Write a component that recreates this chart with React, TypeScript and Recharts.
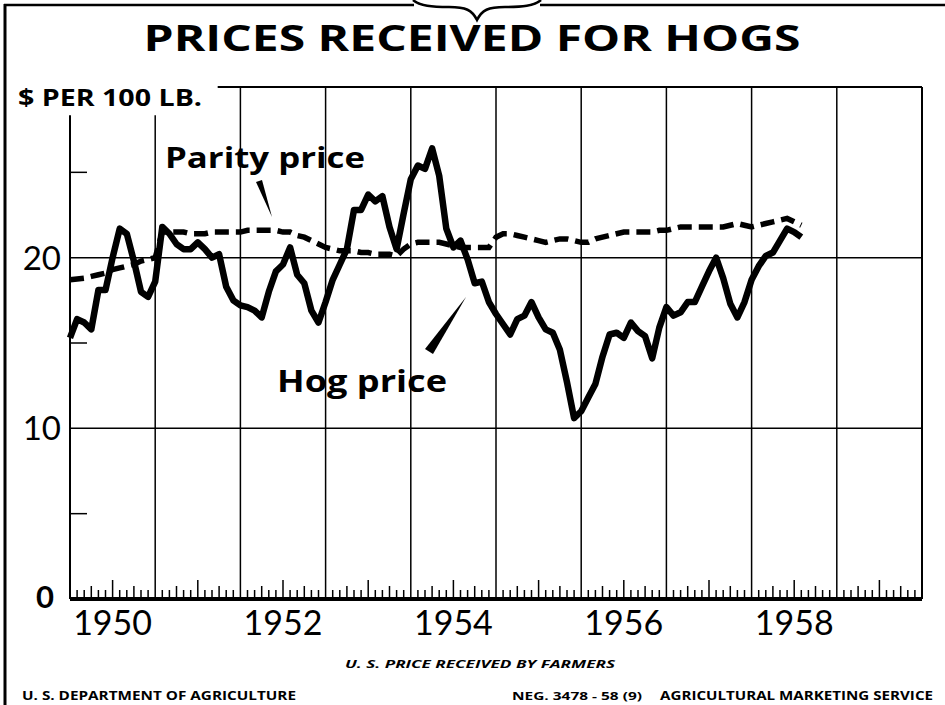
import React from 'react'
import { LineChart, Line, XAxis, YAxis, ReferenceLine, Customized } from 'recharts'

// monthly, Jan 1950 .. Aug 1958, dollars per 100 lb.
const hogPrice = [
  15.3, 16.4, 16.2, 15.8, 18.1, 18.1, 20.0, 21.7, 21.4, 19.8, 18.0, 17.7,
  18.6, 21.8, 21.4, 20.8, 20.5, 20.5, 20.9, 20.5, 20.0, 20.2, 18.3, 17.5,
  17.2, 17.1, 16.9, 16.5, 18.0, 19.2, 19.6, 20.6, 19.0, 18.5, 16.9, 16.2,
  17.4, 18.7, 19.6, 20.5, 22.8, 22.8, 23.7, 23.3, 23.6, 21.8, 20.5, 22.6,
  24.6, 25.4, 25.2, 26.4, 24.8, 21.7, 20.6, 21.0, 19.9, 18.5, 18.6, 17.4,
  16.7, 16.1, 15.5, 16.4, 16.6, 17.4, 16.5, 15.8, 15.6, 14.6, 12.7, 10.6,
  11.0, 11.8, 12.6, 14.2, 15.5, 15.6, 15.3, 16.2, 15.7, 15.4, 14.1, 15.9,
  17.1, 16.6, 16.8, 17.4, 17.4, 18.3, 19.2, 20.0, 18.8, 17.3, 16.5, 17.4,
  18.7, 19.5, 20.1, 20.3, 21.0, 21.7, 21.5, 21.2,
]

const parityPrice = [
  18.7, 18.75, 18.8, 18.9, 19.0, 19.1, 19.3, 19.4, 19.5, 19.6, 19.8, 19.9,
  20.0, 21.5, 21.5, 21.5, 21.5, 21.4, 21.4, 21.4, 21.5, 21.5, 21.5, 21.5,
  21.5, 21.6, 21.6, 21.6, 21.6, 21.6, 21.5, 21.5, 21.3, 21.2, 21.0, 20.8,
  20.6, 20.5, 20.4, 20.4, 20.4, 20.3, 20.3, 20.2, 20.2, 20.2, 20.1, 20.5,
  20.8, 20.9, 20.9, 20.9, 20.9, 20.8, 20.7, 20.6, 20.6, 20.6, 20.6, 20.6,
  21.2, 21.4, 21.4, 21.3, 21.2, 21.1, 21.0, 20.9, 21.0, 21.1, 21.1, 21.0,
  20.9, 20.9, 21.1, 21.2, 21.3, 21.4, 21.5, 21.5, 21.5, 21.5, 21.5, 21.6,
  21.6, 21.7, 21.8, 21.8, 21.8, 21.8, 21.8, 21.8, 21.8, 21.9, 22.0, 21.9,
  21.8, 21.9, 22.0, 22.1, 22.2, 22.3, 22.1, 21.9,
]

const firstYear = 1950
const labeledYears = [1950, 1952, 1954, 1956, 1958]
const valueLabels = [0, 10, 20]
const valueTicks = [0, 5, 10, 15, 20, 25, 30]
const monthTicks = Array.from({ length: 121 }, (_, i) => i)
const yearLines = Array.from({ length: 11 }, (_, i) => i * 12)

const chartData = hogPrice.map((hog, i) => ({ month: i, hog, parity: parityPrice[i] }))

const digitFont = 'Lato, "Open Sans", sans-serif'
const boldFont = '"Open Sans", "DejaVu Sans", sans-serif'

function MonthTick({ x, y, payload }: any) {
  const m = payload.value
  const mo = m % 12
  const year = firstYear + Math.floor(m / 12)
  const len = mo === 6 ? 17 : mo === 3 || mo === 9 ? 11 : 7
  return (
    <g>
      {mo !== 0 && (
        <line x1={x} x2={x} y1={y - 2} y2={y - 2 - len} stroke="#000" strokeWidth={1.5} />
      )}
      {mo === 6 && labeledYears.includes(year) && (
        <text x={x} y={y + 36} textAnchor="middle" fontSize={34} fontFamily={digitFont} fill="#000">
          {year}
        </text>
      )}
    </g>
  )
}

function ValueTick({ x, y, payload }: any) {
  const v = payload.value
  if (v % 10 === 5) {
    return <line x1={x} x2={x + 17} y1={y} y2={y} stroke="#000" strokeWidth={1.5} />
  }
  if (!valueLabels.includes(v)) return null
  return (
    <text
      x={v === 0 ? x - 16 : x - 9}
      y={v === 0 ? y + 9 : y + 12}
      textAnchor="end"
      fontSize={v === 0 ? 31 : 33}
      fontWeight={v === 0 ? 700 : 400}
      fontFamily={digitFont}
      fill="#000"
    >
      {v}
    </text>
  )
}

function Decorations() {
  return (
    <g>
      {/* frame and brace */}
      <line x1={5} x2={5} y1={4} y2={705} stroke="#000" strokeWidth={3} />
      <line x1={4} x2={414} y1={5} y2={5} stroke="#000" strokeWidth={2.5} />
      <line x1={540} x2={945} y1={5} y2={5} stroke="#000" strokeWidth={2.5} />
      <path
        d="M413,0 C420,6 432,7 449,7 C466,7 472,10 477,20 C482,10 488,7 505,7 C522,7 534,6 541,0"
        fill="none"
        stroke="#000"
        strokeWidth={2.5}
      />

      <text x={472} y={51} textAnchor="middle" fontSize={36} fontWeight={700} fontFamily={boldFont}
        textLength={657} lengthAdjust="spacingAndGlyphs" fill="#000">
        PRICES RECEIVED FOR HOGS
      </text>
      <text x={18} y={106} fontSize={23} fontWeight={700} fontFamily={boldFont}
        textLength={184} lengthAdjust="spacingAndGlyphs" fill="#000">
        $ PER 100 LB.
      </text>

      {/* series labels */}
      <rect x={160} y={140} width={212} height={38} fill="#fff" />
      <text x={165} y={168} fontSize={29} fontWeight={700} fontFamily={boldFont}
        textLength={200} lengthAdjust="spacingAndGlyphs" fill="#000">
        Parity price
      </text>
      <polygon points="256,182 262,180 272,217" fill="#000" />

      <rect x={270} y={357} width={184} height={46} fill="#fff" />
      <text x={277} y={392} fontSize={30} fontWeight={700} fontFamily={boldFont}
        textLength={170} lengthAdjust="spacingAndGlyphs" fill="#000">
        Hog price
      </text>
      <polygon points="466,297 425,349 433,354" fill="#000" />

      {/* footers */}
      <text x={480} y={668} textAnchor="middle" fontSize={11} fontWeight={700} fontStyle="italic"
        fontFamily={boldFont} textLength={270} lengthAdjust="spacingAndGlyphs" fill="#000">
        U. S. PRICE RECEIVED BY FARMERS
      </text>
      <text x={22} y={700} fontSize={12} fontWeight={700} fontFamily={boldFont}
        textLength={274} lengthAdjust="spacingAndGlyphs" fill="#000">
        U. S. DEPARTMENT OF AGRICULTURE
      </text>
      <text x={512} y={700} fontSize={11} fontWeight={700} fontFamily={boldFont}
        textLength={130} lengthAdjust="spacingAndGlyphs" fill="#000">
        NEG. 3478 - 58 (9)
      </text>
      <text x={660} y={700} fontSize={12} fontWeight={700} fontFamily={boldFont}
        textLength={273} lengthAdjust="spacingAndGlyphs" fill="#000">
        AGRICULTURAL MARKETING SERVICE
      </text>
    </g>
  )
}

export default function App() {
  return (
    <div style={{ position: 'absolute', left: 0, top: 0, width: 945, height: 705, background: '#fff' }}>
      <LineChart
        width={945}
        height={705}
        data={chartData}
        margin={{ top: 87, right: 23, left: 8, bottom: 66 }}
      >
        <XAxis
          dataKey="month"
          type="number"
          domain={[0, 120]}
          ticks={monthTicks}
          interval={0}
          height={40}
          tickSize={0}
          tickMargin={0}
          tickLine={false}
          axisLine={{ stroke: '#000', strokeWidth: 4 }}
          tick={<MonthTick />}
        />
        <YAxis
          type="number"
          domain={[0, 30]}
          ticks={valueTicks}
          interval={0}
          width={62}
          tickSize={0}
          tickMargin={0}
          tickLine={false}
          axisLine={false}
          tick={<ValueTick />}
        />

        {yearLines.map((m) => (
          <ReferenceLine
            key={m}
            segment={[{ x: m, y: 0 }, { x: m, y: m <= 12 ? 28.35 : 30 }]}
            stroke="#000"
            strokeWidth={m === 0 || m === 120 ? 2 : 1.5}
          />
        ))}
        <ReferenceLine y={10} stroke="#000" strokeWidth={1.5} />
        <ReferenceLine y={20} stroke="#000" strokeWidth={1.5} />
        <ReferenceLine segment={[{ x: 20.8, y: 30 }, { x: 120, y: 30 }]} stroke="#000" strokeWidth={2} />

        <Customized component={Decorations} />

        <Line
          type="linear"
          dataKey="parity"
          stroke="#000"
          strokeWidth={5.5}
          strokeDasharray="14 7"
          dot={false}
          isAnimationActive={false}
        />
        <Line
          type="linear"
          dataKey="hog"
          stroke="#000"
          strokeWidth={6.5}
          strokeLinejoin="round"
          dot={false}
          isAnimationActive={false}
        />
      </LineChart>
    </div>
  )
}
